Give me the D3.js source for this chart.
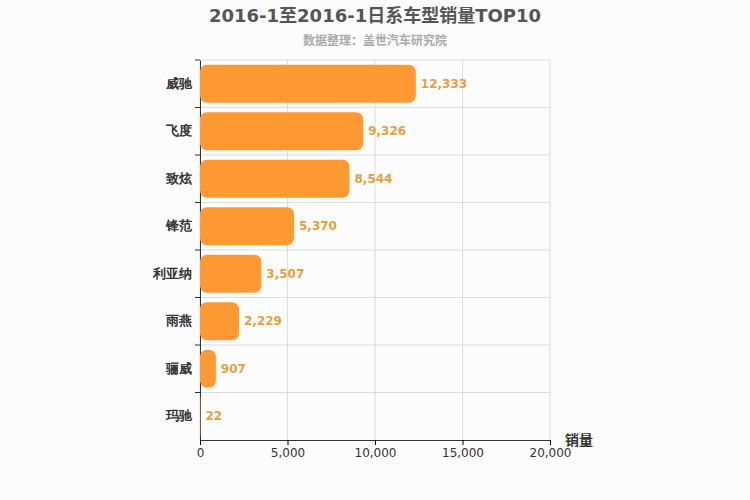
<!DOCTYPE html><html><head><meta charset="utf-8"><script src="https://cdn.jsdelivr.net/npm/d3@7"></script>
<style>body{margin:0;background:#fcfcfc;font-family:"DejaVu Sans","Noto Sans CJK SC",sans-serif}</style></head><body>
<svg id="c" width="750" height="500"></svg>
<script>
const categories=["威驰","飞度","致炫","锋范","利亚纳","雨燕","骊威","玛驰"];
const values=[12333,9326,8544,5370,3507,2229,907,22];
const xTicks=[0,5000,10000,15000,20000];
const svg=d3.select("#c");
svg.append("rect").attr("width",750).attr("height",500).attr("fill","#fcfcfc");
const L=200,R=550,T=60,B=440;
const x=d3.scaleLinear().domain([0,20000]).range([L,R]);
const y=d3.scaleBand().domain(categories).range([T,B]).paddingInner(0.2).paddingOuter(0.1);
const yb=d3.scaleBand().domain(categories).range([T,B]);
const g=svg.append("g");
xTicks.forEach(t=>g.append("line").attr("x1",x(t)).attr("x2",x(t)).attr("y1",T).attr("y2",B).attr("stroke","#ddd"));
categories.forEach(c=>g.append("line").attr("x1",L).attr("x2",R).attr("y1",yb(c)).attr("y2",yb(c)).attr("stroke","#ddd"));
const xa=svg.append("g").attr("transform",`translate(0,${B})`).call(d3.axisBottom(x).tickValues(xTicks).tickFormat(d3.format(",")).tickSize(5));
xa.selectAll("text").attr("font-size",12).attr("fill","#333").attr("font-family","DejaVu Sans");
xa.select(".domain").attr("stroke","#333");
const ya=svg.append("g").attr("transform",`translate(${L},0)`).call(d3.axisLeft(yb).tickSize(0).tickPadding(8));
ya.selectAll("text").attr("font-size",13).attr("font-weight","bold").attr("fill","#333");
ya.select(".domain").attr("stroke","#333");
categories.forEach(c=>svg.append("line").attr("x1",L-5).attr("x2",L).attr("y1",yb(c)).attr("y2",yb(c)).attr("stroke","#333"));
svg.selectAll(".bar").data(values).enter().append("rect").attr("x",x(0)).attr("y",(d,i)=>y(categories[i]))
 .attr("width",d=>Math.max(0,x(d)-x(0))).attr("height",y.bandwidth()).attr("rx",d=>Math.min(7,(x(d)-x(0))/2)).attr("fill","#ff9933");
svg.selectAll(".lbl").data(values).enter().append("text").attr("x",d=>x(d)+5).attr("y",(d,i)=>y(categories[i])+y.bandwidth()/2+4)
 .text(d3.format(",")).attr("font-size",12).attr("font-weight","bold").attr("fill","#e8a040");
svg.append("text").attr("x",375).attr("y",22).attr("text-anchor","middle").attr("font-size",18).attr("font-weight","bold").attr("fill","#555").text("2016-1至2016-1日系车型销量TOP10");
svg.append("text").attr("x",375).attr("y",45).attr("text-anchor","middle").attr("font-size",12).attr("font-weight","bold").attr("fill","#aaa").text("数据整理：盖世汽车研究院");
svg.append("text").attr("x",565).attr("y",445).attr("font-size",14).attr("font-weight","bold").attr("fill","#333").text("销量");
</script></body></html>
